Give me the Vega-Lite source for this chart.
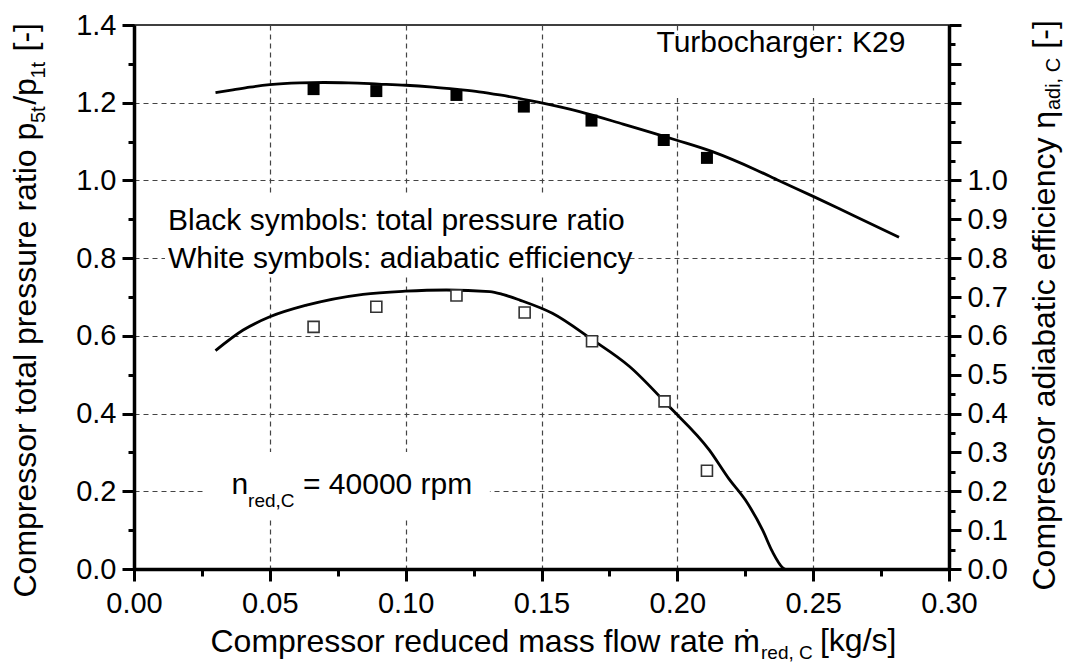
{
  "$schema": "https://vega.github.io/schema/vega-lite/v6.json",
  "width": 815,
  "height": 544,
  "autosize": {"type": "none"},
  "padding": {"left": 134, "top": 25, "right": 120, "bottom": 98},
  "background": "white",
  "config": {
    "font": "Liberation Sans",
    "view": {"stroke": "black", "strokeWidth": 1.5},
    "axis": {
      "domainColor": "black", "domainWidth": 3.5, "tickColor": "black", "tickWidth": 3,
      "labelColor": "black", "labelFontSize": 29, "labelFont": "Liberation Sans",
      "titleColor": "black", "titleFontSize": 32, "titleFontWeight": "normal", "titleFont": "Liberation Sans",
      "gridColor": "#444444", "gridDash": [5, 4], "gridWidth": 1.2
    }
  },
  "datasets": {
    "pr_curve": [
      {"x": 0.030, "y": 1.226}, {"x": 0.0364, "y": 1.233}, {"x": 0.0426, "y": 1.240}, {"x": 0.050, "y": 1.2465},
      {"x": 0.061, "y": 1.251}, {"x": 0.070, "y": 1.252}, {"x": 0.079, "y": 1.251}, {"x": 0.090, "y": 1.248},
      {"x": 0.100, "y": 1.245}, {"x": 0.110, "y": 1.240}, {"x": 0.119, "y": 1.234}, {"x": 0.127, "y": 1.228},
      {"x": 0.1346, "y": 1.220}, {"x": 0.1496, "y": 1.200}, {"x": 0.164, "y": 1.177}, {"x": 0.180, "y": 1.145},
      {"x": 0.1995, "y": 1.104}, {"x": 0.2129, "y": 1.074}, {"x": 0.229, "y": 1.027}, {"x": 0.2375, "y": 0.999},
      {"x": 0.250, "y": 0.959}, {"x": 0.265, "y": 0.909}, {"x": 0.2816, "y": 0.854}
    ],
    "eff_curve": [
      {"x": 0.030, "y": 0.562}, {"x": 0.0402, "y": 0.615}, {"x": 0.050, "y": 0.649}, {"x": 0.0635, "y": 0.679},
      {"x": 0.0843, "y": 0.707}, {"x": 0.0998, "y": 0.715}, {"x": 0.115, "y": 0.718}, {"x": 0.131, "y": 0.714},
      {"x": 0.136, "y": 0.706}, {"x": 0.142, "y": 0.692}, {"x": 0.154, "y": 0.658}, {"x": 0.1685, "y": 0.591},
      {"x": 0.1824, "y": 0.521}, {"x": 0.197, "y": 0.418}, {"x": 0.2118, "y": 0.306}, {"x": 0.219, "y": 0.232},
      {"x": 0.225, "y": 0.178}, {"x": 0.2314, "y": 0.100}, {"x": 0.235, "y": 0.0445}, {"x": 0.2387, "y": 0.004},
      {"x": 0.2395, "y": 0.0}
    ],
    "pr_pts": [
      {"x": 0.0661, "y": 1.235}, {"x": 0.0892, "y": 1.230}, {"x": 0.1187, "y": 1.220}, {"x": 0.1435, "y": 1.190},
      {"x": 0.1684, "y": 1.154}, {"x": 0.1950, "y": 1.104}, {"x": 0.2109, "y": 1.058}
    ],
    "eff_pts": [
      {"x": 0.0661, "y": 0.623}, {"x": 0.0892, "y": 0.675}, {"x": 0.1187, "y": 0.704}, {"x": 0.1438, "y": 0.660},
      {"x": 0.1686, "y": 0.586}, {"x": 0.1953, "y": 0.4315}, {"x": 0.2109, "y": 0.253}
    ],
    "boxes": [
      {"x1": 0.1898, "x2": 0.291, "y1": 1.212, "y2": 1.374},
      {"x1": 0.0114, "x2": 0.1786, "y1": 0.754, "y2": 0.960},
      {"x1": 0.0261, "x2": 0.131, "y1": 0.131, "y2": 0.301}
    ],
    "labels": [
      {"x": 0.1923, "y": 1.330, "text": "Turbocharger: K29"},
      {"x": 0.0125, "y": 0.872, "text": "Black symbols: total pressure ratio"},
      {"x": 0.0125, "y": 0.774, "text": "White symbols: adiabatic efficiency"},
      {"x": 0.0359, "y": 0.192, "text": "n"},
      {"x": 0.0622, "y": 0.192, "text": "= 40000 rpm"}
    ],
    "titleparts": [
      {"x": 0.2525, "y": -0.211, "text": "[kg/s]"}
    ],
    "subs": [
      {"x": 0.042, "y": 0.1595, "text": "red,C"},
      {"x": 0.2308, "y": -0.2316, "text": "red, C"}
    ],
    "vsubs": [
      {"x": -0.0328, "y": 1.1477, "text": "5t"},
      {"x": -0.0328, "y": 1.262, "text": "1t"},
      {"x": 0.3408, "y": 1.181, "text": "adi, C"}
    ]
  },
  "resolve": {"axis": {"x": "independent", "y": "independent"}},
  "layer": [
    {
      "data": {"name": "boxes"},
      "mark": {"type": "rect", "fill": "white"},
      "encoding": {
        "x": {
          "field": "x1", "type": "quantitative",
          "scale": {"domain": [0, 0.3], "nice": false, "zero": false},
          "axis": {
            "orient": "bottom",
            "values": [0, 0.025, 0.05, 0.075, 0.1, 0.125, 0.15, 0.175, 0.2, 0.225, 0.25, 0.275, 0.3],
            "labelExpr": "round(datum.value*1000) % 50 == 0 ? format(datum.value, '.2f') : ''",
            "tickSize": {"condition": {"test": "round(datum.value*1000) % 50 == 0", "value": 12}, "value": 7},
            "grid": true,
            "gridOpacity": {"condition": {"test": "round(datum.value*1000) % 50 == 0 && datum.value > 0.001 && datum.value < 0.299", "value": 1}, "value": 0},
            "labelPadding": 8,
            "labelFlush": false,
            "title": "Compressor reduced mass flow rate ṁ",
            "titleX": 76, "titleY": 82, "titleAlign": "left", "titleBaseline": "alphabetic", "titleAnchor": "start"
          }
        },
        "x2": {"field": "x2"},
        "y": {
          "field": "y1", "type": "quantitative",
          "scale": {"domain": [0, 1.4], "nice": false, "zero": false},
          "axis": {
            "orient": "left",
            "values": [0, 0.1, 0.2, 0.3, 0.4, 0.5, 0.6, 0.7, 0.8, 0.9, 1.0, 1.1, 1.2, 1.3, 1.4],
            "labelExpr": "round(datum.value*10) % 2 == 0 ? format(datum.value, '.1f') : ''",
            "tickSize": {"condition": {"test": "round(datum.value*10) % 2 == 0", "value": 12}, "value": 6},
            "grid": true,
            "gridOpacity": {"condition": {"test": "round(datum.value*10) % 2 == 0 && datum.value > 0.01 && datum.value < 1.39", "value": 1}, "value": 0},
            "labelPadding": 6,
            "labelFlush": false,
            "title": "Compressor total pressure ratio p\u00a0\u00a0/p\u00a0\u00a0\u00a0[-]",
            "titleAngle": 270, "titleX": -99, "titleY": 572, "titleAlign": "left", "titleBaseline": "alphabetic", "titleAnchor": "start"
          }
        },
        "y2": {"field": "y2"}
      }
    },
    {
      "data": {"name": "pr_curve"},
      "mark": {"type": "line", "color": "black", "strokeWidth": 2.8, "interpolate": "monotone"},
      "encoding": {
        "x": {"field": "x", "type": "quantitative", "scale": {"domain": [0, 0.3], "nice": false, "zero": false}, "axis": null},
        "y": {"field": "y", "type": "quantitative", "scale": {"domain": [0, 1.4], "nice": false, "zero": false}, "axis": null}
      }
    },
    {
      "data": {"name": "eff_curve"},
      "mark": {"type": "line", "color": "black", "strokeWidth": 2.8, "interpolate": "monotone"},
      "encoding": {
        "x": {"field": "x", "type": "quantitative", "scale": {"domain": [0, 0.3], "nice": false, "zero": false}, "axis": null},
        "y": {
          "field": "y", "type": "quantitative",
          "scale": {"domain": [0, 1.4], "nice": false, "zero": false},
          "axis": {
            "orient": "right",
            "values": [0, 0.05, 0.1, 0.15, 0.2, 0.25, 0.3, 0.35, 0.4, 0.45, 0.5, 0.55, 0.6, 0.65, 0.7, 0.75, 0.8, 0.85, 0.9, 0.95, 1.0, 1.05, 1.1, 1.15, 1.2, 1.25, 1.3, 1.35, 1.4],
            "labelExpr": "round(datum.value*100) % 10 == 0 && datum.value < 1.01 ? format(datum.value, '.1f') : ''",
            "tickSize": {"condition": {"test": "round(datum.value*100) % 10 == 0", "value": 12}, "value": 6},
            "grid": false,
            "labelPadding": 6,
            "labelFlush": false,
            "title": "Compressor adiabatic efficiency η\u00a0\u00a0\u00a0\u00a0\u00a0\u00a0\u00a0[-]",
            "titleAngle": 270, "titleX": 105, "titleY": 565, "titleAlign": "left", "titleBaseline": "alphabetic", "titleAnchor": "start"
          }
        }
      }
    },
    {
      "data": {"name": "pr_pts"},
      "mark": {"type": "point", "shape": "square", "filled": true, "color": "black", "size": 144, "opacity": 1},
      "encoding": {
        "x": {"field": "x", "type": "quantitative", "scale": {"domain": [0, 0.3], "nice": false, "zero": false}, "axis": null},
        "y": {"field": "y", "type": "quantitative", "scale": {"domain": [0, 1.4], "nice": false, "zero": false}, "axis": null}
      }
    },
    {
      "data": {"name": "eff_pts"},
      "mark": {"type": "point", "shape": "square", "filled": false, "fill": "white", "fillOpacity": 1, "stroke": "#333333", "strokeWidth": 1.6, "size": 121, "opacity": 1},
      "encoding": {
        "x": {"field": "x", "type": "quantitative", "scale": {"domain": [0, 0.3], "nice": false, "zero": false}, "axis": null},
        "y": {"field": "y", "type": "quantitative", "scale": {"domain": [0, 1.4], "nice": false, "zero": false}, "axis": null}
      }
    },
    {
      "data": {"name": "labels"},
      "mark": {"type": "text", "align": "left", "baseline": "alphabetic", "fontSize": 30, "color": "black", "font": "Liberation Sans"},
      "encoding": {
        "x": {"field": "x", "type": "quantitative", "scale": {"domain": [0, 0.3], "nice": false, "zero": false}, "axis": null},
        "y": {"field": "y", "type": "quantitative", "scale": {"domain": [0, 1.4], "nice": false, "zero": false}, "axis": null},
        "text": {"field": "text"}
      }
    },
    {
      "data": {"name": "titleparts"},
      "mark": {"type": "text", "align": "left", "baseline": "alphabetic", "fontSize": 32, "color": "black", "font": "Liberation Sans"},
      "encoding": {
        "x": {"field": "x", "type": "quantitative", "scale": {"domain": [0, 0.3], "nice": false, "zero": false}, "axis": null},
        "y": {"field": "y", "type": "quantitative", "scale": {"domain": [0, 1.4], "nice": false, "zero": false}, "axis": null},
        "text": {"field": "text"}
      }
    },
    {
      "data": {"name": "subs"},
      "mark": {"type": "text", "align": "left", "baseline": "alphabetic", "fontSize": 19, "color": "black", "font": "Liberation Sans"},
      "encoding": {
        "x": {"field": "x", "type": "quantitative", "scale": {"domain": [0, 0.3], "nice": false, "zero": false}, "axis": null},
        "y": {"field": "y", "type": "quantitative", "scale": {"domain": [0, 1.4], "nice": false, "zero": false}, "axis": null},
        "text": {"field": "text"}
      }
    },
    {
      "data": {"name": "vsubs"},
      "mark": {"type": "text", "align": "left", "baseline": "alphabetic", "angle": 270, "fontSize": 20, "color": "black", "font": "Liberation Sans"},
      "encoding": {
        "x": {"field": "x", "type": "quantitative", "scale": {"domain": [0, 0.3], "nice": false, "zero": false}, "axis": null},
        "y": {"field": "y", "type": "quantitative", "scale": {"domain": [0, 1.4], "nice": false, "zero": false}, "axis": null},
        "text": {"field": "text"}
      }
    }
  ]
}
